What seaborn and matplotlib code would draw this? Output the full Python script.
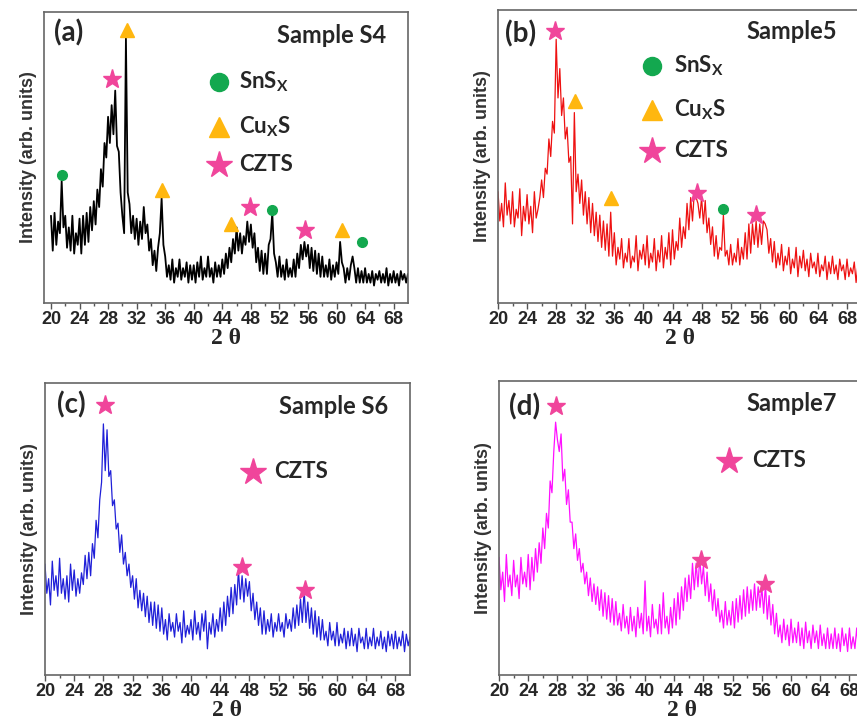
import numpy as np
import matplotlib
matplotlib.use("Agg")
import matplotlib.pyplot as plt
import seaborn as sns

# scan grid (degrees 2-theta, 0.25 deg step)
two_theta = np.arange(20, 70.001, 0.25)

# intensities, in % of panel height
s4 = [30, 18, 31, 20, 28, 24, 42, 26,
      30, 19, 26, 18, 30, 17, 24, 20,
      29, 17, 30, 20, 31, 21, 33, 25,
      35, 27, 39, 33, 46, 40, 55, 50,
      64, 55, 68, 58, 73, 54, 52, 38,
      30, 24, 91, 38, 34, 24, 30, 22,
      29, 20, 28, 22, 33, 24, 27, 18,
      22, 13, 18, 11, 19, 24, 36, 20,
      16, 9, 13, 8, 15, 7, 12, 9,
      15, 8, 12, 9, 14, 7, 13, 8,
      13, 7, 14, 9, 16, 8, 12, 9,
      16, 9, 12, 7, 14, 9, 13, 9,
      15, 10, 17, 12, 19, 14, 22, 17,
      26, 18, 24, 17, 23, 20, 28, 21,
      27, 19, 24, 14, 19, 11, 18, 10,
      17, 10, 20, 22, 31, 17, 14, 9,
      16, 9, 13, 8, 15, 9, 12, 9,
      15, 9, 17, 12, 20, 15, 21, 16,
      20, 12, 19, 11, 18, 10, 17, 9,
      16, 9, 13, 9, 15, 8, 13, 9,
      14, 10, 21, 14, 12, 7, 12, 8,
      13, 16, 12, 7, 12, 7, 11, 7,
      12, 7, 10, 7, 11, 6, 10, 8,
      11, 7, 10, 7, 12, 6, 10, 7,
      11, 7, 10, 6, 11, 8, 10, 7,
      10]

s5 = [38, 28, 34, 26, 41, 30, 35, 27,
      38, 26, 32, 29, 39, 23, 33, 28,
      37, 27, 33, 24, 38, 29, 32, 36,
      42, 36, 46, 44, 56, 50, 62, 58,
      90, 70, 80, 64, 70, 56, 60, 48,
      50, 27, 65, 38, 44, 34, 42, 30,
      38, 27, 36, 24, 34, 23, 31, 21,
      30, 19, 28, 18, 27, 16, 31, 16,
      24, 13, 19, 15, 22, 12, 17, 14,
      22, 12, 16, 14, 23, 11, 18, 15,
      20, 13, 23, 12, 17, 14, 22, 11,
      18, 14, 23, 12, 19, 15, 24, 13,
      25, 15, 21, 18, 29, 19, 26, 22,
      34, 25, 36, 28, 38, 36, 34, 29,
      36, 27, 35, 24, 29, 20, 26, 16,
      23, 15, 19, 18, 30, 16, 18, 13,
      20, 13, 17, 14, 22, 13, 19, 15,
      24, 15, 27, 17, 27, 20, 28, 19,
      27, 20, 28, 27, 25, 17, 22, 14,
      21, 12, 17, 13, 20, 11, 16, 13,
      19, 10, 15, 12, 19, 9, 16, 12,
      18, 11, 15, 9, 17, 12, 14, 10,
      17, 9, 13, 11, 16, 8, 14, 10,
      16, 10, 13, 8, 15, 11, 13, 8,
      15, 9, 12, 10, 14, 7, 13, 9,
      11]

s6 = [38, 28, 33, 24, 39, 29, 34, 27,
      40, 28, 33, 26, 34, 25, 38, 29,
      36, 27, 33, 28, 35, 31, 41, 33,
      42, 34, 45, 40, 53, 47, 60, 66,
      86, 70, 84, 68, 70, 58, 60, 50,
      52, 42, 48, 38, 42, 34, 38, 30,
      34, 26, 33, 23, 29, 22, 28, 20,
      27, 18, 25, 17, 25, 16, 24, 15,
      23, 14, 19, 12, 21, 15, 18, 13,
      21, 15, 18, 11, 22, 13, 17, 14,
      19, 12, 22, 14, 18, 12, 21, 15,
      22, 9, 18, 14, 21, 13, 19, 15,
      23, 15, 25, 17, 27, 20, 30, 21,
      31, 24, 36, 26, 34, 25, 33, 27,
      32, 22, 28, 19, 25, 17, 23, 14,
      22, 14, 19, 15, 21, 13, 18, 15,
      21, 15, 18, 13, 21, 16, 19, 15,
      23, 16, 24, 17, 26, 18, 29, 18,
      25, 16, 23, 14, 22, 13, 20, 12,
      19, 12, 15, 10, 18, 12, 15, 10,
      18, 10, 14, 11, 16, 9, 15, 10,
      16, 10, 14, 8, 16, 11, 13, 9,
      16, 9, 13, 10, 16, 9, 13, 10,
      15, 9, 13, 8, 15, 10, 14, 9,
      15, 9, 13, 10, 15, 8, 14, 10,
      13]

s7 = [40, 29, 35, 25, 41, 30, 34, 27,
      39, 30, 34, 26, 40, 31, 35, 30,
      41, 29, 40, 32, 43, 35, 45, 38,
      50, 43, 55, 50, 66, 62, 76, 86,
      80, 76, 82, 66, 70, 58, 63, 52,
      52, 43, 48, 39, 43, 35, 38, 31,
      35, 27, 33, 25, 31, 24, 30, 22,
      29, 20, 28, 19, 27, 18, 26, 17,
      25, 17, 21, 15, 24, 16, 20, 14,
      23, 15, 20, 13, 23, 16, 21, 14,
      32, 15, 20, 13, 24, 16, 19, 14,
      24, 14, 28, 16, 20, 14, 23, 16,
      26, 17, 28, 19, 30, 22, 33, 25,
      34, 26, 38, 29, 38, 30, 40, 31,
      37, 27, 35, 25, 31, 22, 29, 20,
      26, 18, 22, 16, 25, 17, 22, 17,
      25, 16, 26, 18, 27, 19, 29, 20,
      30, 21, 29, 22, 31, 22, 30, 23,
      30, 21, 31, 19, 27, 17, 24, 14,
      21, 13, 17, 11, 19, 12, 17, 10,
      19, 11, 16, 11, 18, 10, 16, 9,
      18, 11, 15, 9, 17, 11, 15, 9,
      17, 10, 14, 9, 16, 9, 14, 9,
      16, 9, 14, 8, 16, 10, 14, 8,
      16, 9, 13, 9, 16, 8, 13, 9,
      13]

# phase marks (2-theta, height %)
s4_snsx = [(21.5, 44), (51.0, 32), (63.6, 21)]
s4_cuxs = [(30.6, 94), (35.6, 39), (45.2, 27), (60.7, 25)]
s4_czts = [(28.6, 77), (47.9, 33), (55.6, 25)]
s5_snsx = [(51.0, 32)]
s5_cuxs = [(30.55, 69), (35.5, 36)]
s5_czts = [(27.9, 93), (47.4, 37.5), (55.55, 30)]
s6_czts = [(28.2, 92.5), (47.0, 37), (55.6, 29)]
s7_czts = [(27.85, 91.5), (47.7, 39), (56.5, 31)]

tick_pos = list(range(20, 69, 4))
tick_lab = [str(t) for t in tick_pos]

sns.set_style("ticks")
plt.rcParams["font.family"] = ["Lato", "DejaVu Sans"]
plt.rcParams["mathtext.fontset"] = "custom"
plt.rcParams["mathtext.bf"] = "Lato:bold"
plt.rcParams["mathtext.rm"] = "Lato"

GREEN = "#13a84f"
ORANGE = "#ffb70f"
PINK = "#f0459b"

fig = plt.figure(figsize=(8.57, 7.26), dpi=100)
ax_a = fig.add_axes([0.0513, 0.5826, 0.4247, 0.4008])
ax_b = fig.add_axes([0.5811, 0.5826, 0.4242, 0.4036])
ax_c = fig.add_axes([0.0525, 0.0702, 0.4259, 0.4022])
ax_d = fig.add_axes([0.5823, 0.0702, 0.4259, 0.4050])


def style(ax, xmin):
    ax.set_xlim(xmin, 70)
    ax.set_ylim(0, 100)
    ax.set_yticks([])
    ax.set_xticks(tick_pos, labels=tick_lab, fontsize=13, fontweight="bold",
                  family="Liberation Sans")
    ax.set_xticks(range(22, 70, 4), minor=True)
    ax.tick_params(axis="x", which="major", direction="out", length=4,
                   width=1, color="#555", pad=2)
    ax.tick_params(axis="x", which="minor", direction="out", length=2.5,
                   width=1, color="#555")
    for sp in ax.spines.values():
        sp.set_visible(True)
        sp.set_color("#666")
        sp.set_linewidth(1.2)
    ax.set_xlabel("2 \u03b8", family="Liberation Serif", weight="bold",
                  fontsize=17, labelpad=0)
    ax.set_ylabel("Intensity (arb. units)", family="Liberation Sans",
                  weight="bold", fontsize=13, color="#333", labelpad=5)


def marks(ax, pts, marker, color, size):
    for x, y in pts:
        ax.plot(x, y, marker=marker, color=color, ms=size, ls="none",
                clip_on=False, zorder=5)


sns.lineplot(x=two_theta, y=s4, ax=ax_a, color="black", lw=1.3)
sns.lineplot(x=two_theta, y=s5, ax=ax_b, color="#ee1111", lw=0.9)
sns.lineplot(x=two_theta, y=s6, ax=ax_c, color="#2020d8", lw=0.9)
sns.lineplot(x=two_theta, y=s7, ax=ax_d, color="#ff10ff", lw=0.9)

style(ax_a, 19.02)
style(ax_b, 20)
style(ax_c, 20)
style(ax_d, 20)

# panel (a)
marks(ax_a, s4_snsx, "o", GREEN, 7)
marks(ax_a, s4_cuxs, "^", ORANGE, 10)
marks(ax_a, s4_czts, "*", PINK, 14)
ax_a.text(20.4, 93, "(a)", fontsize=20, weight="bold", va="center")
ax_a.text(67.0, 92, "Sample S4", fontsize=17, weight="bold", va="center", ha="right")
ax_a.plot(43.6, 76, "o", color=GREEN, ms=13)
ax_a.plot(43.6, 60.5, "^", color=ORANGE, ms=15)
ax_a.plot(43.6, 47.5, "*", color=PINK, ms=20)
ax_a.text(46.4, 76, r"SnS$_{\mathbf{X}}$", fontsize=16, weight="bold", va="center")
ax_a.text(46.4, 60.5, r"Cu$_{\mathbf{X}}$S", fontsize=16, weight="bold", va="center")
ax_a.text(46.4, 47.5, "CZTS", fontsize=16, weight="bold", va="center")

# panel (b)
marks(ax_b, s5_snsx, "o", GREEN, 7)
marks(ax_b, s5_cuxs, "^", ORANGE, 10)
marks(ax_b, s5_czts, "*", PINK, 14)
ax_b.text(21.0, 92, "(b)", fontsize=20, weight="bold", va="center")
ax_b.text(66.7, 92.5, "Sample5", fontsize=17, weight="bold", va="center", ha="right")
ax_b.plot(41.2, 81, "o", color=GREEN, ms=13)
ax_b.plot(41.2, 66, "^", color=ORANGE, ms=15)
ax_b.plot(41.2, 52, "*", color=PINK, ms=20)
ax_b.text(44.2, 81, r"SnS$_{\mathbf{X}}$", fontsize=16, weight="bold", va="center")
ax_b.text(44.2, 66, r"Cu$_{\mathbf{X}}$S", fontsize=16, weight="bold", va="center")
ax_b.text(44.2, 52, "CZTS", fontsize=16, weight="bold", va="center")

# panel (c)
marks(ax_c, s6_czts, "*", PINK, 14)
ax_c.text(21.7, 92.4, "(c)", fontsize=20, weight="bold", va="center")
ax_c.text(67.0, 91.8, "Sample S6", fontsize=17, weight="bold", va="center", ha="right")
ax_c.plot(48.5, 69.6, "*", color=PINK, ms=20)
ax_c.text(51.4, 69.6, "CZTS", fontsize=16, weight="bold", va="center")

# panel (d)
marks(ax_d, s7_czts, "*", PINK, 14)
ax_d.text(21.3, 91.3, "(d)", fontsize=20, weight="bold", va="center")
ax_d.text(66.3, 92.4, "Sample7", fontsize=17, weight="bold", va="center", ha="right")
ax_d.plot(51.5, 72.9, "*", color=PINK, ms=20)
ax_d.text(54.7, 72.9, "CZTS", fontsize=16, weight="bold", va="center")

fig.savefig("out.png", dpi=100)
